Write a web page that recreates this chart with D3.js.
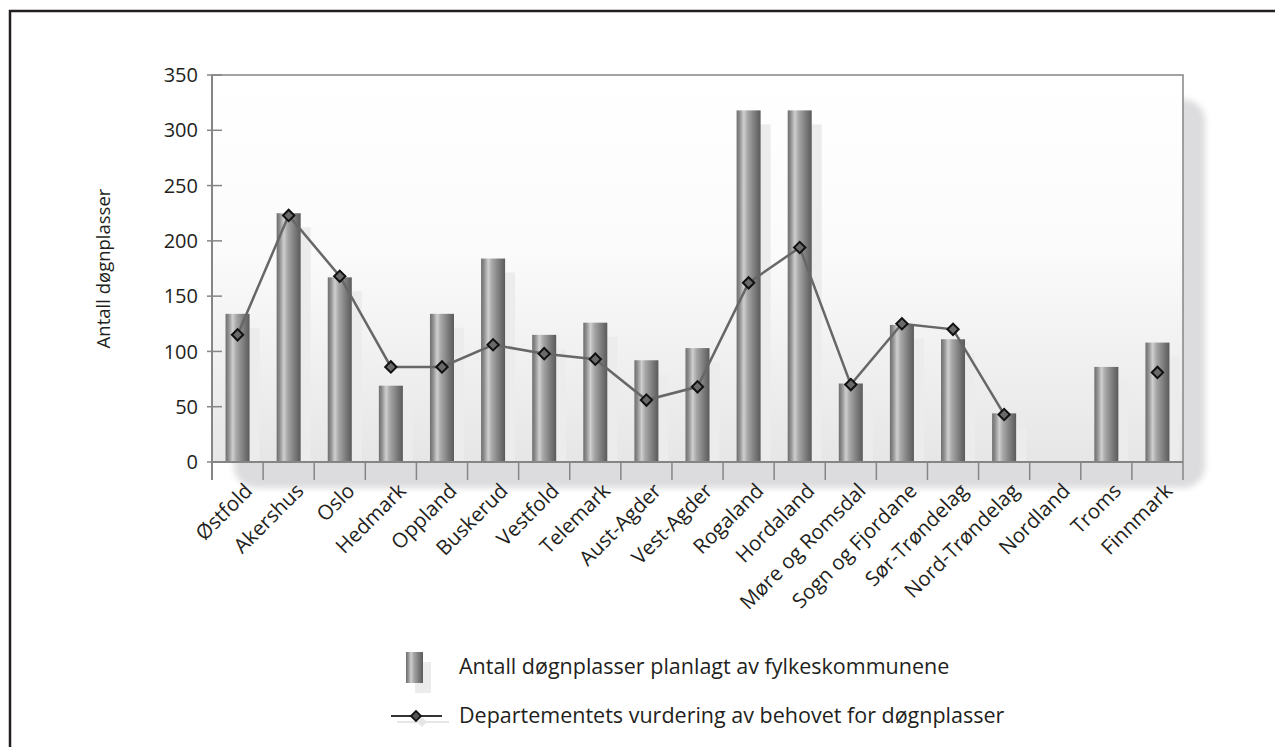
<!DOCTYPE html>
<html><head><meta charset="utf-8">
<script src="https://cdn.jsdelivr.net/npm/d3@7"></script>
<style>body{margin:0;background:#fff}svg{display:block}text{font-family:"Open Sans",sans-serif;fill:#231f20}</style>
</head><body><svg id="c" width="1275" height="747"></svg>
<script>
const categories = ["Østfold","Akershus","Oslo","Hedmark","Oppland","Buskerud","Vestfold","Telemark","Aust-Agder","Vest-Agder","Rogaland","Hordaland","Møre og Romsdal","Sogn og Fjordane","Sør-Trøndelag","Nord-Trøndelag","Nordland","Troms","Finnmark"];
const planned = [134,225,167,69,134,184,115,126,92,103,318,318,71,124,111,44,null,86,108];
const assessed = [115,223,168,86,86,106,98,93,56,68,162,194,70,125,120,43,null,null,81];
const yTicks = [0,50,100,150,200,250,300,350];
const seriesNames = ["Antall døgnplasser planlagt av fylkeskommunene","Departementets vurdering av behovet for døgnplasser"];
const yTitle = "Antall døgnplasser";

const svg = d3.select("#c");
const L=212,R=1183,T=75,B=462;
const x = d3.scaleBand().domain(categories).range([L,R]).padding(0);
const y = d3.scaleLinear().domain([0,350]).range([B,T]);
const bw = x.bandwidth()*0.47;

const defs = svg.append("defs");
const bg = defs.append("linearGradient").attr("id","bg").attr("x1",0).attr("y1",0).attr("x2",0).attr("y2",1);
bg.append("stop").attr("offset","0%").attr("stop-color","#ffffff");
bg.append("stop").attr("offset","45%").attr("stop-color","#fbfbfb");
bg.append("stop").attr("offset","100%").attr("stop-color","#e6e6e6");
const bar = defs.append("linearGradient").attr("id","bar").attr("x1",0).attr("y1",0).attr("x2",1).attr("y2",0);
[["0%","#6e6e6e"],["12%","#8c8c8c"],["30%","#cfcfcf"],["45%","#a8a8a8"],["75%","#7c7c7c"],["100%","#5a5a5a"]]
  .forEach(s=>bar.append("stop").attr("offset",s[0]).attr("stop-color",s[1]));
const blur = defs.append("filter").attr("id","blur").attr("x","-10%").attr("y","-10%").attr("width","120%").attr("height","120%");
blur.append("feGaussianBlur").attr("stdDeviation",3);

// frame
svg.append("path").attr("d","M10,747 L10,11 L1275,11").attr("fill","none").attr("stroke","#231f20").attr("stroke-width",2.5);

// plot shadow
svg.append("rect").attr("x",L+22).attr("y",T+24).attr("width",R-L).attr("height",B-T+2)
  .attr("rx",22).attr("fill","#dcdcde").attr("filter","url(#blur)");
svg.append("rect").attr("x",L).attr("y",T).attr("width",R-L).attr("height",B-T).attr("fill","url(#bg)");

// ghost bars
svg.append("g").selectAll("rect").data(categories.map((c,i)=>({c,v:planned[i]})).filter(d=>d.v!=null))
  .join("rect").attr("x",d=>x(d.c)+x.bandwidth()/2-bw/2+10).attr("y",d=>y(d.v)+14)
  .attr("width",bw).attr("height",d=>B-y(d.v)-14).attr("fill","#ececec");
// bars
svg.append("g").selectAll("rect").data(categories.map((c,i)=>({c,v:planned[i]})).filter(d=>d.v!=null))
  .join("rect").attr("x",d=>x(d.c)+x.bandwidth()/2-bw/2).attr("y",d=>y(d.v))
  .attr("width",bw).attr("height",d=>B-y(d.v)).attr("fill","url(#bar)");

// axes
const ag = svg.append("g").attr("stroke","#858585").attr("fill","none");
ag.append("path").attr("d",`M${L},${T} L${R},${T} L${R},${B}`).attr("stroke-width",1.5);
ag.append("line").attr("x1",L).attr("x2",L).attr("y1",T).attr("y2",B+18).attr("stroke-width",2);
ag.append("line").attr("x1",L).attr("x2",R).attr("y1",B).attr("y2",B).attr("stroke-width",2);
ag.selectAll(".yt").data(yTicks).join("line").attr("x1",L-5).attr("x2",L+10).attr("y1",d=>y(d)).attr("y2",d=>y(d)).attr("stroke-width",1.5);
ag.selectAll(".xt").data(categories.slice(1).concat(["_end"])).join("line")
  .attr("x1",(d,i)=>L+(i+1)*x.step()).attr("x2",(d,i)=>L+(i+1)*x.step()).attr("y1",B).attr("y2",B+18).attr("stroke-width",1.5);

svg.append("g").selectAll("text").data(yTicks).join("text")
  .attr("x",L-14).attr("y",d=>y(d)).attr("dy","0.36em").attr("text-anchor","end").attr("font-size",20).text(d=>d);

svg.append("g").selectAll("text").data(categories).join("text")
  .attr("transform",d=>`translate(${x(d)+x.bandwidth()/2+6},${B+20}) rotate(-45)`)
  .attr("text-anchor","end").attr("dy","0.7em").attr("font-size",20.5).text(d=>d);

svg.append("text").attr("transform",`translate(110,${(T+B)/2}) rotate(-90)`).attr("text-anchor","middle")
  .attr("font-size",18.5).text(yTitle);

// line
const pts = categories.map((c,i)=>({c,v:assessed[i]}));
const line = d3.line().defined(d=>d.v!=null).x(d=>x(d.c)+x.bandwidth()/2).y(d=>y(d.v));
svg.append("path").attr("d",line(pts)).attr("fill","none").attr("stroke","#676767").attr("stroke-width",2.5);
svg.append("g").selectAll("path").data(pts.filter(d=>d.v!=null)).join("path")
  .attr("transform",d=>`translate(${x(d.c)+x.bandwidth()/2},${y(d.v)}) rotate(45)`)
  .attr("d",d3.symbol().type(d3.symbolSquare).size(64)).attr("fill","#6a6a6a").attr("stroke","#111").attr("stroke-width",2);

// legend
const lg = svg.append("g");
lg.append("rect").attr("x",415).attr("y",662).attr("width",16).attr("height",31).attr("fill","#ececec");
lg.append("rect").attr("x",406).attr("y",652).attr("width",17).attr("height",31).attr("fill","url(#bar)");
lg.append("text").attr("x",459).attr("y",674).attr("font-size",21.5).text(seriesNames[0]);
lg.append("line").attr("x1",397).attr("x2",449).attr("y1",722).attr("y2",722).attr("stroke","#e6e6e6").attr("stroke-width",2);
lg.append("path").attr("transform","translate(422,722) rotate(45)").attr("d",d3.symbol().type(d3.symbolSquare).size(50)).attr("fill","#e6e6e6");
lg.append("line").attr("x1",391).attr("x2",442).attr("y1",716).attr("y2",716).attr("stroke","#333").attr("stroke-width",1.8);
lg.append("path").attr("transform","translate(416,716) rotate(45)").attr("d",d3.symbol().type(d3.symbolSquare).size(50)).attr("fill","#555").attr("stroke","#111").attr("stroke-width",1.8);
lg.append("text").attr("x",459).attr("y",723).attr("font-size",21.5).text(seriesNames[1]);
</script></body></html>
